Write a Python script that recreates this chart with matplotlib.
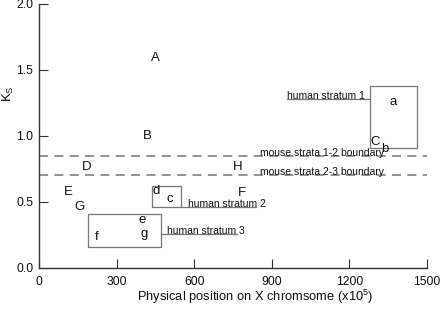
import matplotlib
matplotlib.use("Agg")
import matplotlib.pyplot as plt
from matplotlib.patches import Rectangle

plt.rcParams['font.family'] = ['Liberation Sans', 'DejaVu Sans']
plt.rcParams['mathtext.fontset'] = 'custom'
plt.rcParams['mathtext.rm'] = 'Liberation Sans'
plt.rcParams['mathtext.it'] = 'Liberation Sans'

# Gene labels (uppercase: one set, lowercase: other set)
labels = ['A', 'B', 'C', 'b', 'a', 'D', 'H', 'E', 'G', 'F', 'd', 'c', 'e', 'g', 'f']
pos_x = [450, 420, 1300, 1338, 1369, 186, 769, 112, 158, 785, 452, 506, 398, 406, 224]
ks = [1.59, 1.0, 0.955, 0.90, 1.255, 0.76, 0.76, 0.574, 0.461, 0.567, 0.582, 0.521, 0.363, 0.257, 0.234]

# Human strata boxes: (x0, x1, y0, y1)
strata_names = ['human stratum 1', 'human stratum 2', 'human stratum 3']
strata_x0 = [1280, 438, 188]
strata_x1 = [1461, 550, 470]
strata_y0 = [0.907, 0.458, 0.156]
strata_y1 = [1.376, 0.622, 0.408]
# connector lines: level, x start of text, x end of line
strata_line_y = [1.277, 0.459, 0.257]
strata_text_x = [958, 576, 495]
strata_line_end = [958, 840, 765]

# Mouse strata boundaries
boundary_names = ['mouse strata 1-2 boundary', 'mouse strata 2-3 boundary']
boundary_y = [0.85, 0.70]
boundary_text_x = 854

xticks = [0, 300, 600, 900, 1200, 1500]
yticks = [0.0, 0.5, 1.0, 1.5, 2.0]

fig = plt.figure(figsize=(4.4, 3.09), dpi=100)
ax = fig.add_axes([39/440, 1-268/309, 388/440, 264.5/309])
ax.set_xlim(0, 1500)
ax.set_ylim(0, 2.0)

for s in ['top', 'right']:
    ax.spines[s].set_visible(False)
for s in ['left', 'bottom']:
    ax.spines[s].set_color('#333333')
    ax.spines[s].set_linewidth(1.0)

ax.set_xticks(xticks)
ax.set_yticks(yticks)
ax.set_xticklabels([str(t) for t in xticks])
ax.set_yticklabels([f'{t:.1f}' for t in yticks])
ax.tick_params(axis='both', direction='in', length=6.5, width=0.8,
               color='#333333', labelsize=8.7, labelcolor='#111111')
ax.tick_params(axis='x', pad=6)
ax.tick_params(axis='y', pad=4)

# boundaries
for yb, name in zip(boundary_y, boundary_names):
    ax.axhline(yb, color='#8a8a8a', lw=1.3, dashes=(5, 3.5), zorder=1)
    ax.text(boundary_text_x, yb, name, fontsize=7.5, ha='left',
            va='baseline', color='#111111', zorder=3)

# strata boxes and connectors
for i, name in enumerate(strata_names):
    x0, x1, y0, y1 = strata_x0[i], strata_x1[i], strata_y0[i], strata_y1[i]
    ax.add_patch(Rectangle((x0, y0), x1 - x0, y1 - y0, fill=False,
                           edgecolor='#777777', lw=0.9, zorder=2))
    yl = strata_line_y[i]
    if i == 0:
        ax.plot([strata_line_end[i], x0], [yl, yl], color='#777777', lw=0.9, zorder=2)
    else:
        ax.plot([x1, strata_line_end[i]], [yl, yl], color='#777777', lw=0.9, zorder=2)
    ax.text(strata_text_x[i], yl, name, fontsize=7.5, ha='left',
            va='baseline', color='#111111', zorder=3)

for lab, x, y in zip(labels, pos_x, ks):
    ax.text(x, y, lab, fontsize=9.5, ha='center', va='center', color='#111111', zorder=4)

ax.set_xlabel(r'Physical position on X chromsome (x10$^{5}$)', fontsize=9.3, color='#111111')
ax.xaxis.set_label_coords(0.557, -0.075)
ax.set_ylabel(r'K$_{\mathrm{S}}$', fontsize=9.5, color='#111111')
ax.yaxis.set_label_coords(-0.058, 0.66)

fig.savefig('out.png', dpi=100)
